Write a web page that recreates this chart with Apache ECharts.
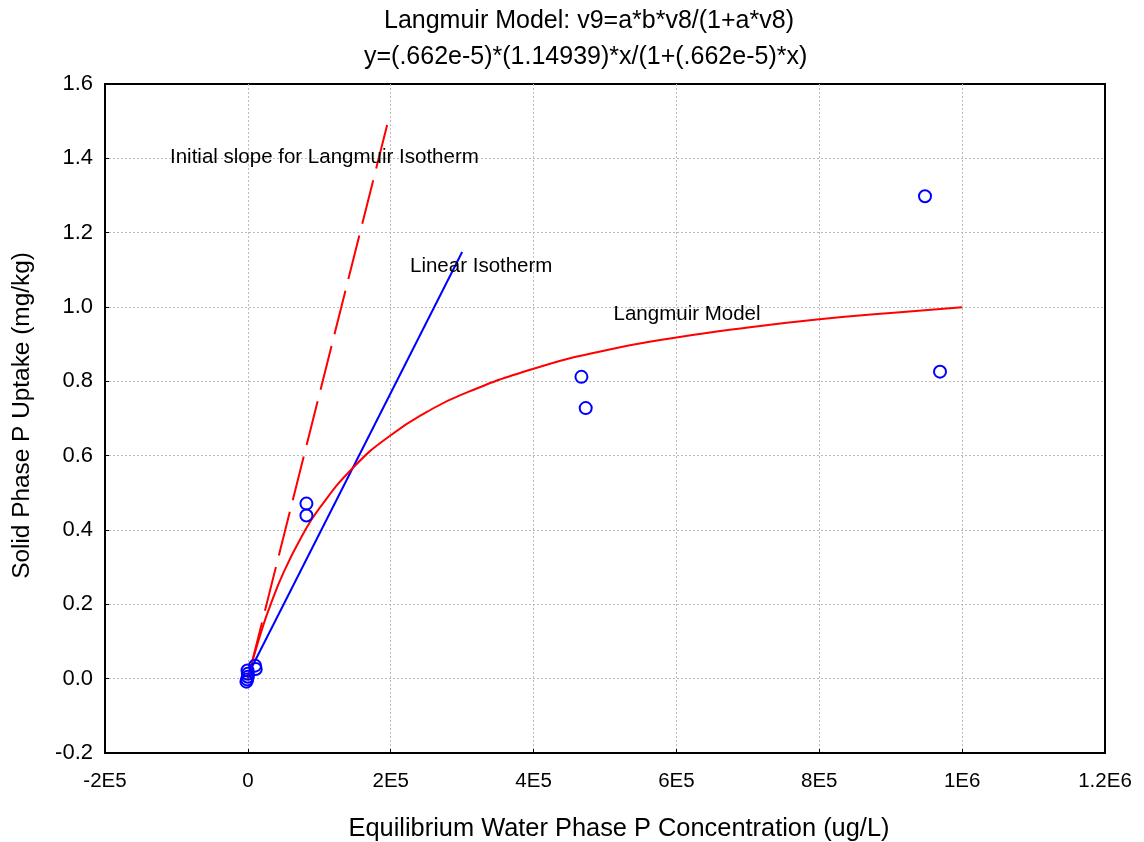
<!DOCTYPE html>
<html>
<head>
<meta charset="utf-8">
<script src="https://cdn.jsdelivr.net/npm/echarts@6/dist/echarts.min.js"></script>
<style>
  html, body { margin: 0; padding: 0; background: #fff; }
  #main { width: 1144px; height: 842px; }
</style>
</head>
<body>
<div id="main"></div>
<script>
// observed points (x = ug/L, y = mg/kg)
var obsX = [-2000, -1000, 0, 0, -500, 10000, 11000, 82000, 82000, 467000, 473000, 948000, 969000];
var obsY = [-0.008, -0.002, 0.005, 0.013, 0.022, 0.035, 0.026, 0.471, 0.439, 0.812, 0.728, 1.298, 0.826];

// Langmuir model curve
var modelX = [0, 5000, 10000, 20000, 30000, 50000, 75000, 100000, 150000, 200000, 250000, 300000, 400000, 500000, 600000, 700000, 800000, 900000, 1000000];
var modelY = [0, 0.037, 0.071, 0.134, 0.190, 0.286, 0.381, 0.458, 0.573, 0.655, 0.717, 0.765, 0.834, 0.883, 0.918, 0.945, 0.967, 0.984, 0.999];

// linear isotherm
var linearX = [0, 300000];
var linearY = [0.01, 1.148];

// initial slope of the Langmuir isotherm (drawn from the top down)
var slopeX = [195000, 0];
var slopeY = [1.49, 0];

// text notes on the plot
var noteText = ['Initial slope for Langmuir Isotherm', 'Linear Isotherm', 'Langmuir Model'];
var noteX = [-109000, 227000, 512000];
var noteY = [1.402, 1.109, 0.981];

var xTicks = [-200000, 0, 200000, 400000, 600000, 800000, 1000000, 1200000];
var xTickLabels = ['-2E5', '0', '2E5', '4E5', '6E5', '8E5', '1E6', '1.2E6'];
var yTickLabels = ['-0.2', '0.0', '0.2', '0.4', '0.6', '0.8', '1.0', '1.2', '1.4', '1.6'];

function pairs(xs, ys) {
  return xs.map(function (x, i) { return [x, ys[i]]; });
}

var chart = echarts.init(document.getElementById('main'));
var font = 'Liberation Sans, Arial, sans-serif';
var grid = { color: '#bbb', type: [2, 2] };
var titleStyle = { fontFamily: font, fontSize: 25, fontWeight: 'normal', color: '#000', lineHeight: 36 };

var option = {
  backgroundColor: '#fff',
  animation: false,
  textStyle: { fontFamily: font },
  title: [
    { text: 'Langmuir Model: v9=a*b*v8/(1+a*v8)', left: 384, top: 3, padding: 0, textStyle: titleStyle },
    { text: 'y=(.662e-5)*(1.14939)*x/(1+(.662e-5)*x)', left: 364, top: 39, padding: 0, textStyle: titleStyle }
  ],
  grid: {
    left: 105, top: 84, width: 1000, height: 669,
    outerBoundsMode: 'none',
    show: true, borderColor: '#000', borderWidth: 2
  },
  xAxis: {
    type: 'value',
    min: -200000, max: 1200000, interval: 200000,
    name: 'Equilibrium Water Phase P Concentration (ug/L)',
    nameLocation: 'middle',
    nameGap: 63,
    nameTextStyle: { fontFamily: font, fontSize: 25.4, color: '#000', padding: [0, 0, 0, 28] },
    axisLine: { onZero: false, lineStyle: { color: '#000', width: 2 } },
    axisTick: { inside: true, length: 4, lineStyle: { color: '#000' } },
    axisLabel: {
      fontFamily: font, fontSize: 20.5, color: '#000', margin: 18,
      formatter: function (v) {
        var i = xTicks.indexOf(v);
        return i >= 0 ? xTickLabels[i] : '';
      }
    },
    splitLine: { showMinLine: false, showMaxLine: false, lineStyle: grid }
  },
  yAxis: {
    type: 'value',
    min: -0.2, max: 1.6, interval: 0.2,
    name: 'Solid Phase P Uptake (mg/kg)',
    nameLocation: 'middle',
    nameGap: 71,
    nameTextStyle: { fontFamily: font, fontSize: 24.4, color: '#000', padding: [0, 0, 0, 6] },
    axisLine: { onZero: false, lineStyle: { color: '#000', width: 2 } },
    axisTick: { inside: true, length: 4, lineStyle: { color: '#000' } },
    axisLabel: {
      fontFamily: font, fontSize: 22, color: '#000', margin: 12,
      formatter: function (v) {
        var i = Math.round((v + 0.2) / 0.2);
        return yTickLabels[i];
      }
    },
    splitLine: { showMinLine: false, showMaxLine: false, lineStyle: grid }
  },
  series: [
    {
      type: 'line',
      data: pairs(slopeX, slopeY),
      showSymbol: false,
      lineStyle: { color: '#ff0000', width: 2, type: [45, 12] },
      z: 3
    },
    {
      type: 'line',
      data: pairs(linearX, linearY),
      showSymbol: false,
      lineStyle: { color: '#0000ff', width: 2 },
      z: 3
    },
    {
      type: 'line',
      data: pairs(modelX, modelY),
      showSymbol: false,
      smooth: true,
      lineStyle: { color: '#ff0000', width: 2 },
      z: 4
    },
    {
      type: 'scatter',
      data: pairs(obsX, obsY),
      symbol: 'circle',
      symbolSize: 12,
      itemStyle: { color: 'rgba(0,0,0,0)', borderColor: '#0000ff', borderWidth: 2, opacity: 1 },
      z: 5
    },
    {
      type: 'scatter',
      data: noteText.map(function (t, i) { return { name: t, value: [noteX[i], noteY[i]] }; }),
      symbolSize: 0,
      silent: true,
      itemStyle: { opacity: 1 },
      label: {
        show: true, position: 'right', distance: 0,
        formatter: '{b}',
        fontFamily: font, fontSize: 20.5, color: '#000'
      },
      z: 6
    }
  ]
};

chart.setOption(option);
</script>
</body>
</html>
